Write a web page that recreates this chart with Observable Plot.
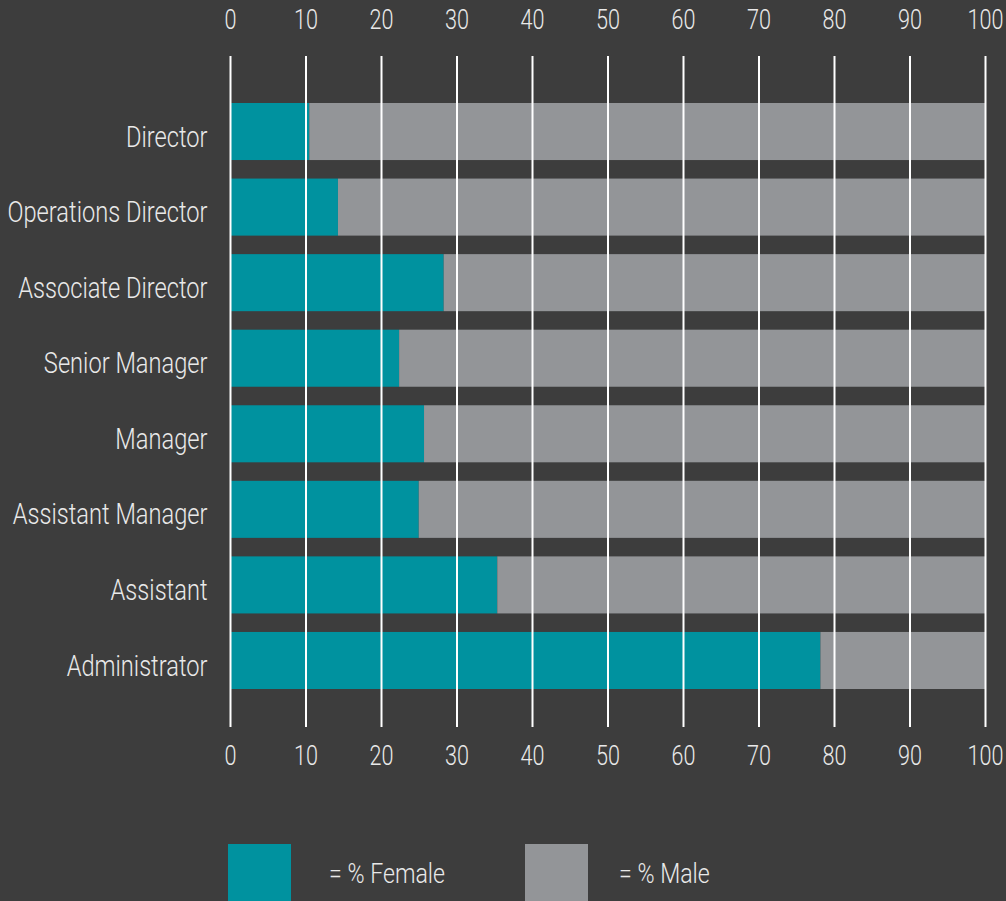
<!DOCTYPE html>
<html>
<head>
<meta charset="utf-8">
<script src="https://cdn.jsdelivr.net/npm/d3@7"></script>
<script src="https://cdn.jsdelivr.net/npm/@observablehq/plot@0.6"></script>
<style>
  html, body { margin: 0; padding: 0; background: #3d3d3d; }
  body { width: 1006px; height: 901px; overflow: hidden; }
  svg { display: block; }
</style>
</head>
<body>
<div id="chart"></div>
<div id="legend"></div>
<script>
const roles = ["Director", "Operations Director", "Associate Director", "Senior Manager", "Manager", "Assistant Manager", "Assistant", "Administrator"];
const femalePct = [10.5, 14.3, 28.3, 22.4, 25.7, 25.0, 35.4, 78.2];
const malePct = femalePct.map(v => 100 - v);
const xTicks = [0, 10, 20, 30, 40, 50, 60, 70, 80, 90, 100];
const seriesNames = ["% Female", "% Male"];
const seriesColors = ["#00929f", "#939598"];
const legendLabels = ["= % Female", "= % Male"];

const rows = [];
roles.forEach((r, i) => {
  rows.push({role: r, gender: seriesNames[0], value: femalePct[i]});
  rows.push({role: r, gender: seriesNames[1], value: malePct[i]});
});

const fontFam = 'Roboto, "Open Sans", sans-serif';
const textColor = "#e9e9e9";

const chart = Plot.plot({
  width: 1006,
  height: 800,
  marginLeft: 230,
  marginRight: 21,
  marginTop: 56,
  marginBottom: 73,
  style: {background: "#3d3d3d", color: textColor, fontFamily: fontFam, fontWeight: 300},
  x: {domain: [0, 100], ticks: xTicks, label: null},
  y: {domain: roles, range: [103, 689], paddingInner: 0.245, paddingOuter: 0, round: false, label: null},
  color: {domain: seriesNames, range: seriesColors},
  marks: [
    Plot.barX(rows, Plot.stackX({x: "value", y: "role", fill: "gender", order: seriesNames})),
    Plot.ruleX(xTicks, {stroke: "#ffffff", strokeWidth: 2}),
    Plot.axisX({anchor: "top", ticks: xTicks, tickSize: 0, tickPadding: 28, fill: textColor, fontSize: 27, label: null}),
    Plot.axisX({anchor: "bottom", ticks: xTicks, tickSize: 0, tickPadding: 18, fill: textColor, fontSize: 27, label: null}),
    Plot.axisY({ticks: roles, tickSize: 0, tickPadding: 23, dy: 5, fill: textColor, fontSize: 30, label: null})
  ]
});
document.getElementById("chart").appendChild(chart);

// Condense text horizontally (textLength) to mimic the condensed typeface
function condense(nodes, s) {
  nodes.forEach(t => {
    const w = t.getComputedTextLength();
    if (w > 0) {
      t.setAttribute("lengthAdjust", "spacingAndGlyphs");
      t.setAttribute("textLength", (w * s).toFixed(2));
    }
  });
}
function widthOf(nodes, label) {
  const n = nodes.find(t => t.textContent === label);
  return n ? n.getComputedTextLength() : null;
}
const yTexts = Array.from(chart.querySelectorAll('g[aria-label="y-axis tick label"] text'));
const xTexts = Array.from(chart.querySelectorAll('g[aria-label="x-axis tick label"] text'));
const wy = widthOf(yTexts, "Operations Director");
const sy = wy ? Math.min(1, 200 / wy) : 0.8;
const wx = widthOf(xTexts, "100");
const sx = wx ? Math.min(1, 36 / wx) : 0.85;
condense(yTexts, sy);
condense(xTexts, sx);

// Legend below the chart
const leg = d3.select("#legend").append("svg").attr("width", 1006).attr("height", 101)
  .style("background", "#3d3d3d");
const swX = [228, 525];
const txX = [329, 619];
seriesNames.forEach((s, i) => {
  leg.append("rect").attr("x", swX[i]).attr("y", 44).attr("width", 63).attr("height", 60).attr("fill", seriesColors[i]);
  leg.append("text").attr("x", txX[i]).attr("y", 82.7)
    .attr("font-family", fontFam).attr("font-weight", 300).attr("font-size", 27)
    .attr("fill", textColor)
    .text(legendLabels[i]);
});
const legTexts = Array.from(leg.node().querySelectorAll("text"));
const wl = legTexts[0].getComputedTextLength();
const sl = wl ? Math.min(1, 116 / wl) : 0.85;
condense(legTexts, sl);
</script>
</body>
</html>
